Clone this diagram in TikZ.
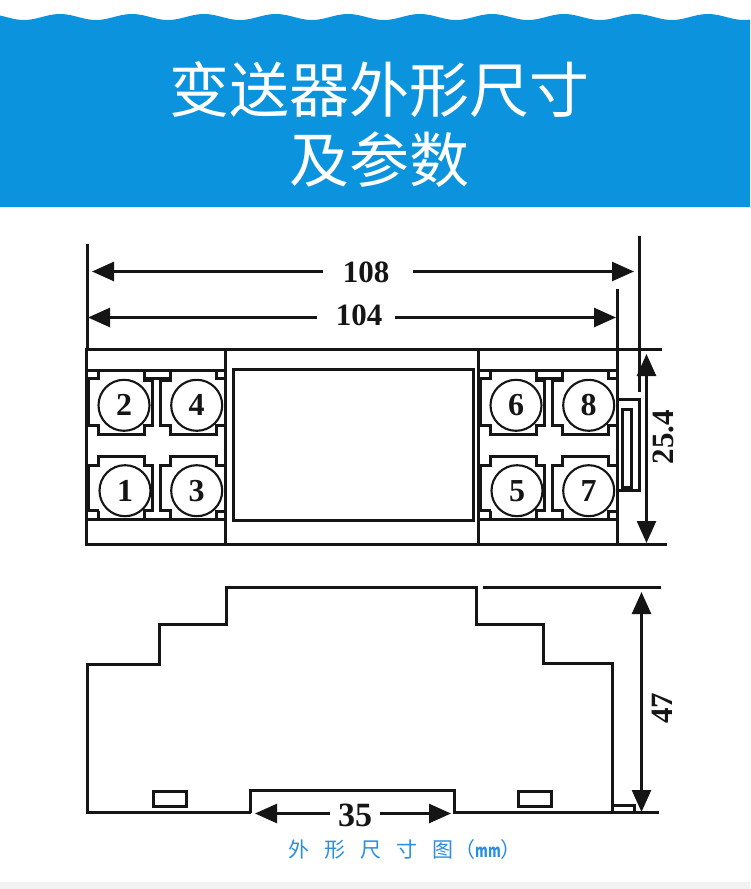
\documentclass[tikz,border=0pt]{standalone}
\usepackage{fontspec}
\setmainfont{Liberation Serif}
\newfontfamily\cjk{Noto Sans CJK SC}
\newfontfamily\capmm[FakeStretch=0.72]{Noto Sans CJK SC}
\usetikzlibrary{arrows.meta}
\definecolor{bandblue}{HTML}{0B93DE}
\definecolor{capblue}{HTML}{2A8FE3}
\definecolor{inkblack}{HTML}{151515}
\tikzset{
  outline/.style={draw=inkblack,line width=2.6pt,line join=miter},
  termline/.style={draw=inkblack,line width=2.4pt,line join=miter},
  thinline/.style={draw=inkblack,line width=2.2pt},
  dimline/.style={draw=inkblack,line width=2.6pt,-{Triangle[length=22pt,width=19pt]}},
  bothtips/.style={draw=inkblack,line width=2.6pt,{Triangle[length=22pt,width=19pt]}-{Triangle[length=22pt,width=19pt]}},
  dimnum/.style={font=\bfseries\fontsize{31}{31}\selectfont,text=inkblack,inner ysep=0pt,outer sep=0pt},
  termcircle/.style={circle,draw=inkblack,line width=2.1pt,minimum size=51pt,inner sep=0pt,
    font=\bfseries\fontsize{32}{32}\selectfont,text=inkblack},
  titletext/.style={font=\cjk\fontsize{60}{60}\selectfont,text=white,inner sep=0pt},
}
\newcommand{\termblock}[5]{%
  % upper-left terminal
  \draw[termline] (98.5,371.5) -- (98.5,378.5) -- (88.5,378.5) -- (88.5,425.5) -- (98.5,425.5) -- (98.5,434.5)
    -- (144.5,434.5) -- (144.5,425.5) -- (152.5,425.5) -- (152.5,380.5) -- (144.5,380.5) -- (144.5,371.5);
  % upper-right terminal
  \draw[termline] (170.5,371.5) -- (170.5,380.5) -- (160.5,380.5) -- (160.5,425.5) -- (170.5,425.5) -- (170.5,434.5)
    -- (216.5,434.5) -- (216.5,425.5) -- (224.5,425.5);
  \draw[termline] (216.5,371.5) -- (216.5,378.5) -- (224.5,378.5);
  \draw[termline] (144.5,378.5) -- (170.5,378.5);
  % lower-left terminal
  \draw[termline] (98.5,510.5) -- (88.5,510.5) -- (88.5,465.5) -- (98.5,465.5) -- (98.5,456.5) -- (144.5,456.5) -- (144.5,465.5)
    -- (152.5,465.5) -- (152.5,510.5) -- (144.5,510.5) -- (144.5,519.5);
  \draw[termline] (98.5,510.5) -- (98.5,519.5);
  % lower-right terminal
  \draw[termline] (170.5,519.5) -- (170.5,510.5) -- (160.5,510.5) -- (160.5,465.5) -- (170.5,465.5) -- (170.5,456.5)
    -- (216.5,456.5) -- (216.5,465.5) -- (224.5,465.5);
  \draw[termline] (216.5,519.5) -- (216.5,511.5) -- (224.5,511.5);
  % dividers
  \draw[termline] (86.5,370.5) -- (225.5,370.5);
  \draw[termline] (86.5,519.5) -- (225.5,519.5);
  \node[termcircle] (#1a) at (124,405.3) {#2};
  \node[termcircle] (#1b) at (196.7,405.3) {#3};
  \node[termcircle] (#1c) at (125,490.7) {#4};
  \node[termcircle] (#1d) at (196.7,490.7) {#5};
}
\begin{document}
\begin{tikzpicture}[x=1pt,y=-1pt]
\useasboundingbox (0,0) rectangle (750,889);
\fill[white] (0,0) rectangle (750,889);
% header band
\fill[bandblue] plot[domain=0:750,samples=250] (\x,{17-3*cos((\x-60)*5)}) -- (750,207) -- (0,207) -- cycle;
\fill[black!5] (0,882) rectangle (750,889);
\node[titletext] (title1) at (379,90) {变送器外形尺寸};
\node[titletext] (title2) at (379,160) {及参数};

% top view body
\draw[outline] (86.5,349.5) rectangle (617.5,544.5);
\draw[outline] (225.5,349.5) -- (225.5,544.5);
\draw[outline] (478.5,349.5) -- (478.5,544.5);
\draw[outline] (233.5,369.5) rectangle (473.5,520.5);
\termblock{L}{2}{4}{1}{3}
\begin{scope}[xshift=392pt]
\termblock{R}{6}{8}{5}{7}
\end{scope}

% clip at right side
\draw[termline] (617.5,399.5) -- (639.5,399.5) -- (639.5,490.5) -- (617.5,490.5);
\draw[thinline] (622.5,409.5) rectangle (631.5,487.5);

% extension lines
\coordinate (e1a) at (87.5,244);   \coordinate (e1b) at (87.5,349.5);
\coordinate (e2a) at (639.5,236);  \coordinate (e2b) at (639.5,392);
\coordinate (e3a) at (617.5,289);  \coordinate (e3b) at (617.5,349.5);
\coordinate (e4a) at (617.5,349.5);\coordinate (e4b) at (662,349.5);
\coordinate (e5a) at (617.5,544.5);\coordinate (e5b) at (667,544.5);
\draw[outline] (e1a) -- (e1b);
\draw[outline] (e2a) -- (e2b);
\draw[outline] (e3a) -- (e3b);
\draw[outline] (e4a) -- (e4b);
\draw[outline] (e5a) -- (e5b);

% dimensions
\node[dimnum,inner xsep=0pt] (t108) at (366,272) {108};
\coordinate (a108) at (92,271.5);  \coordinate (b108) at (634,271.5);
\coordinate (c108) at (323,271.5); \coordinate (d108) at (413,271.5);
\draw[dimline] (c108) -- (a108);
\draw[dimline] (d108) -- (b108);
\node[dimnum,inner xsep=0pt] (t104) at (359,315) {104};
\coordinate (a104) at (88,317.5);  \coordinate (b104) at (616,317.5);
\coordinate (c104) at (317,317.5); \coordinate (d104) at (395,317.5);
\draw[dimline] (c104) -- (a104);
\draw[dimline] (d104) -- (b104);
\coordinate (a254) at (646.5,354); \coordinate (b254) at (646.5,543);
\draw[bothtips] (a254) -- (b254);
\node[dimnum,rotate=90] (t254) at (663,437) {25.4};

% side profile
\draw[outline] (483,587.5) -- (661,587.5);
\draw[outline] (250.5,812.5) -- (87.5,812.5) -- (87.5,664.5) -- (159.5,664.5) -- (159.5,624.5) -- (226.5,624.5) -- (226.5,587.5)
  -- (476.5,587.5) -- (476.5,624.5) -- (543.5,624.5) -- (543.5,663.5) -- (612.5,663.5) -- (612.5,812.5);
\draw[outline] (250.5,812.5) -- (250.5,790.5) -- (454.5,790.5) -- (454.5,812.5) -- (659,812.5);
\draw[thinline] (153.5,791.5) rectangle (186.5,806.5);
\draw[thinline] (518.5,791.5) rectangle (551.5,806.5);
\draw[thinline] (612.5,805.5) -- (634.5,805.5) -- (634.5,812.5);

\coordinate (a47) at (641.5,592); \coordinate (b47) at (641.5,812);
\draw[bothtips] (a47) -- (b47);
\node[dimnum,rotate=90] (t47) at (662,708) {47};

\node[dimnum,inner xsep=0pt,font=\bfseries\fontsize{34}{34}\selectfont] (t35) at (355,815) {35};
\coordinate (a35) at (255,813.5); \coordinate (b35) at (451,813.5);
\coordinate (c35) at (330,813.5); \coordinate (d35) at (380,813.5);
\draw[dimline] (c35) -- (a35);
\draw[dimline] (d35) -- (b35);

% caption
\node[font=\cjk\fontsize{21}{21}\selectfont,text=capblue,inner sep=0pt] (caption) at (405,850)
  {外\hspace{15pt}形\hspace{15pt}尺\hspace{15pt}寸\hspace{15pt}图\hspace{1pt}（{\capmm\bfseries\fontsize{18}{18}\selectfont mm}）};
\end{tikzpicture}
\end{document}
